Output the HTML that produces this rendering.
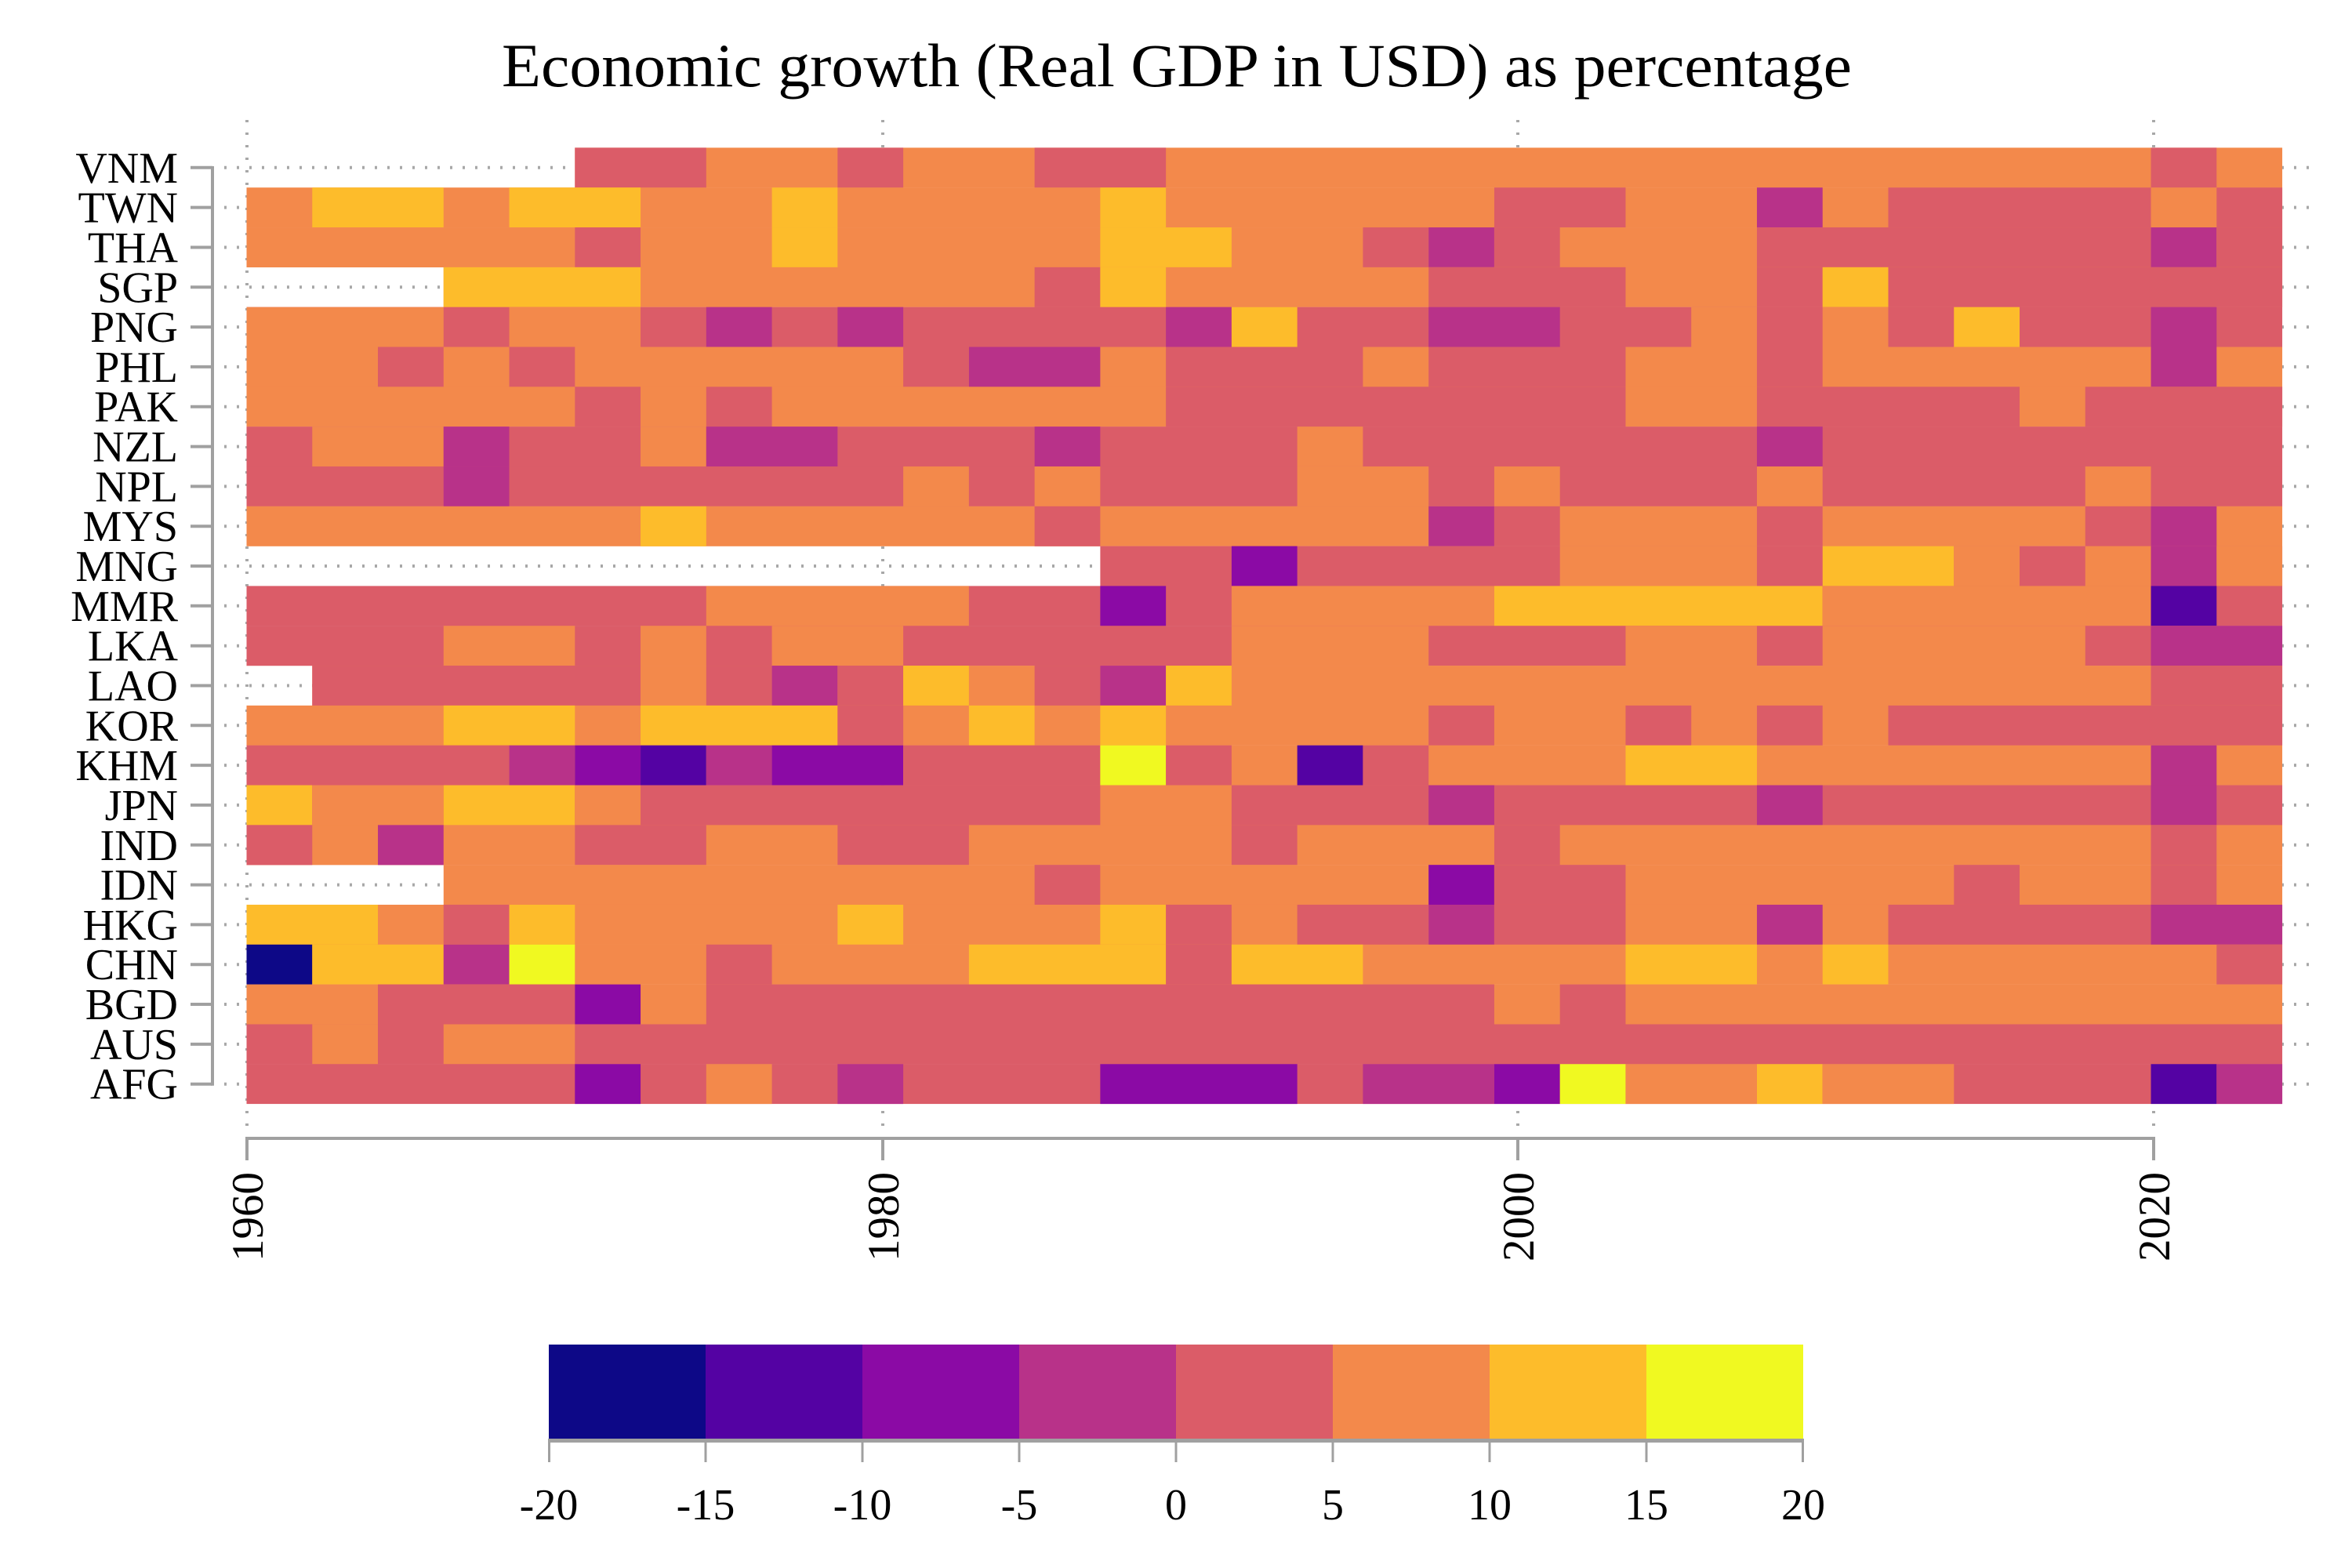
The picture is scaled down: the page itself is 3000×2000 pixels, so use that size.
<!DOCTYPE html>
<html>
<head>
<meta charset="utf-8">
<style>
html,body{margin:0;padding:0;background:#fff;}
svg{display:block;}
.R{fill:#db5c68}.O{fill:#f3894b}.Y{fill:#fdbc2b}.L{fill:#f0f921}
.M{fill:#b83289}.P{fill:#8b0aa5}.V{fill:#5402a3}.N{fill:#0d0887}
text{font-family:"Liberation Serif",serif;fill:#000;}
</style>
</head>
<body>
<svg width="3000" height="2000" viewBox="0 0 3000 2000" xmlns="http://www.w3.org/2000/svg">
<rect x="0" y="0" width="3000" height="2000" fill="#fff"/>

<!-- gridlines -->
<path d="M286 213.8H2950M286 264.6H2950M286 315.5H2950M286 366.3H2950M286 417.1H2950M286 467.9H2950M286 518.7H2950M286 569.6H2950M286 620.4H2950M286 671.2H2950M286 722H2950M286 772.8H2950M286 823.7H2950M286 874.5H2950M286 925.3H2950M286 976.1H2950M286 1026.9H2950M286 1077.8H2950M286 1128.6H2950M286 1179.4H2950M286 1230.2H2950M286 1281H2950M286 1331.9H2950M286 1382.7H2950" stroke="#a8a8a8" stroke-width="4" stroke-dasharray="3 13" fill="none"/>
<path d="M315 153V1440M1126 153V1440M1936 153V1440M2747 153V1440" stroke="#a8a8a8" stroke-width="4" stroke-dasharray="3 13" fill="none"/>

<!-- heatmap -->
<!-- r0 VNM -->
<g transform="translate(0,188.4)">
<rect class="O" x="733.3" y="0" width="2177.76" height="51"/>
<rect class="R" x="733.3" y="0" width="167.52" height="51"/>
<rect class="R" x="1068.34" y="0" width="83.76" height="51"/>
<rect class="R" x="1319.62" y="0" width="167.52" height="51"/>
<rect class="R" x="2743.54" y="0" width="83.76" height="51"/>
</g>
<!-- r1 TWN -->
<g transform="translate(0,239.22)">
<rect class="O" x="314.5" y="0" width="2596.56" height="51"/>
<rect class="Y" x="398.26" y="0" width="167.52" height="51"/>
<rect class="Y" x="649.54" y="0" width="167.52" height="51"/>
<rect class="Y" x="984.58" y="0" width="83.76" height="51"/>
<rect class="Y" x="1403.38" y="0" width="83.76" height="51"/>
<rect class="R" x="1905.94" y="0" width="167.52" height="51"/>
<rect class="M" x="2240.98" y="0" width="83.76" height="51"/>
<rect class="R" x="2408.5" y="0" width="335.04" height="51"/>
<rect class="R" x="2827.3" y="0" width="83.76" height="51"/>
</g>
<!-- r2 THA -->
<g transform="translate(0,290.04)">
<rect class="O" x="314.5" y="0" width="2596.56" height="51"/>
<rect class="R" x="733.3" y="0" width="83.76" height="51"/>
<rect class="Y" x="984.58" y="0" width="83.76" height="51"/>
<rect class="Y" x="1403.38" y="0" width="167.52" height="51"/>
<rect class="R" x="1738.42" y="0" width="83.76" height="51"/>
<rect class="M" x="1822.18" y="0" width="83.76" height="51"/>
<rect class="R" x="1905.94" y="0" width="83.76" height="51"/>
<rect class="R" x="2240.98" y="0" width="502.56" height="51"/>
<rect class="M" x="2743.54" y="0" width="83.76" height="51"/>
<rect class="R" x="2827.3" y="0" width="83.76" height="51"/>
</g>
<!-- r3 SGP -->
<g transform="translate(0,340.86)">
<rect class="O" x="565.78" y="0" width="2345.28" height="51"/>
<rect class="Y" x="565.78" y="0" width="251.28" height="51"/>
<rect class="R" x="1319.62" y="0" width="83.76" height="51"/>
<rect class="Y" x="1403.38" y="0" width="83.76" height="51"/>
<rect class="R" x="1822.18" y="0" width="251.28" height="51"/>
<rect class="R" x="2240.98" y="0" width="83.76" height="51"/>
<rect class="Y" x="2324.74" y="0" width="83.76" height="51"/>
<rect class="R" x="2408.5" y="0" width="502.56" height="51"/>
</g>
<!-- r4 PNG -->
<g transform="translate(0,391.68)">
<rect class="R" x="314.5" y="0" width="2596.56" height="51"/>
<rect class="O" x="314.5" y="0" width="251.28" height="51"/>
<rect class="O" x="649.54" y="0" width="167.52" height="51"/>
<rect class="M" x="900.82" y="0" width="83.76" height="51"/>
<rect class="M" x="1068.34" y="0" width="83.76" height="51"/>
<rect class="M" x="1487.14" y="0" width="83.76" height="51"/>
<rect class="Y" x="1570.9" y="0" width="83.76" height="51"/>
<rect class="M" x="1822.18" y="0" width="167.52" height="51"/>
<rect class="O" x="2157.22" y="0" width="83.76" height="51"/>
<rect class="O" x="2324.74" y="0" width="83.76" height="51"/>
<rect class="Y" x="2492.26" y="0" width="83.76" height="51"/>
<rect class="M" x="2743.54" y="0" width="83.76" height="51"/>
</g>
<!-- r5 PHL -->
<g transform="translate(0,442.5)">
<rect class="O" x="314.5" y="0" width="2596.56" height="51"/>
<rect class="R" x="482.02" y="0" width="83.76" height="51"/>
<rect class="R" x="649.54" y="0" width="83.76" height="51"/>
<rect class="R" x="1152.1" y="0" width="83.76" height="51"/>
<rect class="M" x="1235.86" y="0" width="167.52" height="51"/>
<rect class="R" x="1487.14" y="0" width="251.28" height="51"/>
<rect class="R" x="1822.18" y="0" width="251.28" height="51"/>
<rect class="R" x="2240.98" y="0" width="83.76" height="51"/>
<rect class="M" x="2743.54" y="0" width="83.76" height="51"/>
</g>
<!-- r6 PAK -->
<g transform="translate(0,493.32)">
<rect class="O" x="314.5" y="0" width="2596.56" height="51"/>
<rect class="R" x="733.3" y="0" width="83.76" height="51"/>
<rect class="R" x="900.82" y="0" width="83.76" height="51"/>
<rect class="R" x="1487.14" y="0" width="586.32" height="51"/>
<rect class="R" x="2240.98" y="0" width="335.04" height="51"/>
<rect class="R" x="2659.78" y="0" width="251.28" height="51"/>
</g>
<!-- r7 NZL -->
<g transform="translate(0,544.14)">
<rect class="R" x="314.5" y="0" width="2596.56" height="51"/>
<rect class="O" x="398.26" y="0" width="167.52" height="51"/>
<rect class="M" x="565.78" y="0" width="83.76" height="51"/>
<rect class="O" x="817.06" y="0" width="83.76" height="51"/>
<rect class="M" x="900.82" y="0" width="167.52" height="51"/>
<rect class="M" x="1319.62" y="0" width="83.76" height="51"/>
<rect class="O" x="1654.66" y="0" width="83.76" height="51"/>
<rect class="M" x="2240.98" y="0" width="83.76" height="51"/>
</g>
<!-- r8 NPL -->
<g transform="translate(0,594.96)">
<rect class="R" x="314.5" y="0" width="2596.56" height="51"/>
<rect class="M" x="565.78" y="0" width="83.76" height="51"/>
<rect class="O" x="1152.1" y="0" width="83.76" height="51"/>
<rect class="O" x="1319.62" y="0" width="83.76" height="51"/>
<rect class="O" x="1654.66" y="0" width="167.52" height="51"/>
<rect class="O" x="1905.94" y="0" width="83.76" height="51"/>
<rect class="O" x="2240.98" y="0" width="83.76" height="51"/>
<rect class="O" x="2659.78" y="0" width="83.76" height="51"/>
</g>
<!-- r9 MYS -->
<g transform="translate(0,645.78)">
<rect class="O" x="314.5" y="0" width="2596.56" height="51"/>
<rect class="Y" x="817.06" y="0" width="83.76" height="51"/>
<rect class="R" x="1319.62" y="0" width="83.76" height="51"/>
<rect class="M" x="1822.18" y="0" width="83.76" height="51"/>
<rect class="R" x="1905.94" y="0" width="83.76" height="51"/>
<rect class="R" x="2240.98" y="0" width="83.76" height="51"/>
<rect class="R" x="2659.78" y="0" width="83.76" height="51"/>
<rect class="M" x="2743.54" y="0" width="83.76" height="51"/>
</g>
<!-- r10 MNG -->
<g transform="translate(0,696.6)">
<rect class="R" x="1403.38" y="0" width="1507.68" height="51"/>
<rect class="P" x="1570.9" y="0" width="83.76" height="51"/>
<rect class="O" x="1989.7" y="0" width="251.28" height="51"/>
<rect class="Y" x="2324.74" y="0" width="167.52" height="51"/>
<rect class="O" x="2492.26" y="0" width="83.76" height="51"/>
<rect class="O" x="2659.78" y="0" width="83.76" height="51"/>
<rect class="M" x="2743.54" y="0" width="83.76" height="51"/>
<rect class="O" x="2827.3" y="0" width="83.76" height="51"/>
</g>
<!-- r11 MMR -->
<g transform="translate(0,747.42)">
<rect class="R" x="314.5" y="0" width="2596.56" height="51"/>
<rect class="O" x="900.82" y="0" width="335.04" height="51"/>
<rect class="P" x="1403.38" y="0" width="83.76" height="51"/>
<rect class="O" x="1570.9" y="0" width="335.04" height="51"/>
<rect class="Y" x="1905.94" y="0" width="418.8" height="51"/>
<rect class="O" x="2324.74" y="0" width="418.8" height="51"/>
<rect class="V" x="2743.54" y="0" width="83.76" height="51"/>
</g>
<!-- r12 LKA -->
<g transform="translate(0,798.24)">
<rect class="R" x="314.5" y="0" width="2596.56" height="51"/>
<rect class="O" x="565.78" y="0" width="167.52" height="51"/>
<rect class="O" x="817.06" y="0" width="83.76" height="51"/>
<rect class="O" x="984.58" y="0" width="167.52" height="51"/>
<rect class="O" x="1570.9" y="0" width="251.28" height="51"/>
<rect class="O" x="2073.46" y="0" width="167.52" height="51"/>
<rect class="O" x="2324.74" y="0" width="335.04" height="51"/>
<rect class="M" x="2743.54" y="0" width="167.52" height="51"/>
</g>
<!-- r13 LAO -->
<g transform="translate(0,849.06)">
<rect class="O" x="398.26" y="0" width="2512.8" height="51"/>
<rect class="R" x="398.26" y="0" width="418.8" height="51"/>
<rect class="R" x="900.82" y="0" width="83.76" height="51"/>
<rect class="M" x="984.58" y="0" width="83.76" height="51"/>
<rect class="R" x="1068.34" y="0" width="83.76" height="51"/>
<rect class="Y" x="1152.1" y="0" width="83.76" height="51"/>
<rect class="R" x="1319.62" y="0" width="83.76" height="51"/>
<rect class="M" x="1403.38" y="0" width="83.76" height="51"/>
<rect class="Y" x="1487.14" y="0" width="83.76" height="51"/>
<rect class="R" x="2743.54" y="0" width="167.52" height="51"/>
</g>
<!-- r14 KOR -->
<g transform="translate(0,899.88)">
<rect class="O" x="314.5" y="0" width="2596.56" height="51"/>
<rect class="Y" x="565.78" y="0" width="167.52" height="51"/>
<rect class="Y" x="817.06" y="0" width="251.28" height="51"/>
<rect class="R" x="1068.34" y="0" width="83.76" height="51"/>
<rect class="Y" x="1235.86" y="0" width="83.76" height="51"/>
<rect class="Y" x="1403.38" y="0" width="83.76" height="51"/>
<rect class="R" x="1822.18" y="0" width="83.76" height="51"/>
<rect class="R" x="2073.46" y="0" width="83.76" height="51"/>
<rect class="R" x="2240.98" y="0" width="83.76" height="51"/>
<rect class="R" x="2408.5" y="0" width="502.56" height="51"/>
</g>
<!-- r15 KHM -->
<g transform="translate(0,950.7)">
<rect class="O" x="314.5" y="0" width="2596.56" height="51"/>
<rect class="R" x="314.5" y="0" width="335.04" height="51"/>
<rect class="M" x="649.54" y="0" width="83.76" height="51"/>
<rect class="P" x="733.3" y="0" width="83.76" height="51"/>
<rect class="V" x="817.06" y="0" width="83.76" height="51"/>
<rect class="M" x="900.82" y="0" width="83.76" height="51"/>
<rect class="P" x="984.58" y="0" width="167.52" height="51"/>
<rect class="R" x="1152.1" y="0" width="251.28" height="51"/>
<rect class="L" x="1403.38" y="0" width="83.76" height="51"/>
<rect class="R" x="1487.14" y="0" width="83.76" height="51"/>
<rect class="V" x="1654.66" y="0" width="83.76" height="51"/>
<rect class="R" x="1738.42" y="0" width="83.76" height="51"/>
<rect class="Y" x="2073.46" y="0" width="167.52" height="51"/>
<rect class="M" x="2743.54" y="0" width="83.76" height="51"/>
</g>
<!-- r16 JPN -->
<g transform="translate(0,1001.52)">
<rect class="R" x="314.5" y="0" width="2596.56" height="51"/>
<rect class="Y" x="314.5" y="0" width="83.76" height="51"/>
<rect class="O" x="398.26" y="0" width="167.52" height="51"/>
<rect class="Y" x="565.78" y="0" width="167.52" height="51"/>
<rect class="O" x="733.3" y="0" width="83.76" height="51"/>
<rect class="O" x="1403.38" y="0" width="167.52" height="51"/>
<rect class="M" x="1822.18" y="0" width="83.76" height="51"/>
<rect class="M" x="2240.98" y="0" width="83.76" height="51"/>
<rect class="M" x="2743.54" y="0" width="83.76" height="51"/>
</g>
<!-- r17 IND -->
<g transform="translate(0,1052.34)">
<rect class="O" x="314.5" y="0" width="2596.56" height="51"/>
<rect class="R" x="314.5" y="0" width="83.76" height="51"/>
<rect class="M" x="482.02" y="0" width="83.76" height="51"/>
<rect class="R" x="733.3" y="0" width="167.52" height="51"/>
<rect class="R" x="1068.34" y="0" width="167.52" height="51"/>
<rect class="R" x="1570.9" y="0" width="83.76" height="51"/>
<rect class="R" x="1905.94" y="0" width="83.76" height="51"/>
<rect class="R" x="2743.54" y="0" width="83.76" height="51"/>
</g>
<!-- r18 IDN -->
<g transform="translate(0,1103.16)">
<rect class="O" x="565.78" y="0" width="2345.28" height="51"/>
<rect class="R" x="1319.62" y="0" width="83.76" height="51"/>
<rect class="P" x="1822.18" y="0" width="83.76" height="51"/>
<rect class="R" x="1905.94" y="0" width="167.52" height="51"/>
<rect class="R" x="2492.26" y="0" width="83.76" height="51"/>
<rect class="R" x="2743.54" y="0" width="83.76" height="51"/>
</g>
<!-- r19 HKG -->
<g transform="translate(0,1153.98)">
<rect class="O" x="314.5" y="0" width="2596.56" height="51"/>
<rect class="Y" x="314.5" y="0" width="167.52" height="51"/>
<rect class="R" x="565.78" y="0" width="83.76" height="51"/>
<rect class="Y" x="649.54" y="0" width="83.76" height="51"/>
<rect class="Y" x="1068.34" y="0" width="83.76" height="51"/>
<rect class="Y" x="1403.38" y="0" width="83.76" height="51"/>
<rect class="R" x="1487.14" y="0" width="83.76" height="51"/>
<rect class="R" x="1654.66" y="0" width="167.52" height="51"/>
<rect class="M" x="1822.18" y="0" width="83.76" height="51"/>
<rect class="R" x="1905.94" y="0" width="167.52" height="51"/>
<rect class="M" x="2240.98" y="0" width="83.76" height="51"/>
<rect class="R" x="2408.5" y="0" width="335.04" height="51"/>
<rect class="M" x="2743.54" y="0" width="167.52" height="51"/>
</g>
<!-- r20 CHN -->
<g transform="translate(0,1204.8)">
<rect class="O" x="314.5" y="0" width="2596.56" height="51"/>
<rect class="N" x="314.5" y="0" width="83.76" height="51"/>
<rect class="Y" x="398.26" y="0" width="167.52" height="51"/>
<rect class="M" x="565.78" y="0" width="83.76" height="51"/>
<rect class="L" x="649.54" y="0" width="83.76" height="51"/>
<rect class="R" x="900.82" y="0" width="83.76" height="51"/>
<rect class="Y" x="1235.86" y="0" width="251.28" height="51"/>
<rect class="R" x="1487.14" y="0" width="83.76" height="51"/>
<rect class="Y" x="1570.9" y="0" width="167.52" height="51"/>
<rect class="Y" x="2073.46" y="0" width="167.52" height="51"/>
<rect class="Y" x="2324.74" y="0" width="83.76" height="51"/>
<rect class="R" x="2827.3" y="0" width="83.76" height="51"/>
</g>
<!-- r21 BGD -->
<g transform="translate(0,1255.62)">
<rect class="O" x="314.5" y="0" width="2596.56" height="51"/>
<rect class="R" x="482.02" y="0" width="251.28" height="51"/>
<rect class="P" x="733.3" y="0" width="83.76" height="51"/>
<rect class="R" x="900.82" y="0" width="1005.12" height="51"/>
<rect class="R" x="1989.7" y="0" width="83.76" height="51"/>
</g>
<!-- r22 AUS -->
<g transform="translate(0,1306.44)">
<rect class="R" x="314.5" y="0" width="2596.56" height="51"/>
<rect class="O" x="398.26" y="0" width="83.76" height="51"/>
<rect class="O" x="565.78" y="0" width="167.52" height="51"/>
</g>
<!-- r23 AFG -->
<g transform="translate(0,1357.26)">
<rect class="R" x="314.5" y="0" width="2596.56" height="50.82"/>
<rect class="P" x="733.3" y="0" width="83.76" height="50.82"/>
<rect class="O" x="900.82" y="0" width="83.76" height="50.82"/>
<rect class="M" x="1068.34" y="0" width="83.76" height="50.82"/>
<rect class="P" x="1403.38" y="0" width="251.28" height="50.82"/>
<rect class="M" x="1738.42" y="0" width="167.52" height="50.82"/>
<rect class="P" x="1905.94" y="0" width="83.76" height="50.82"/>
<rect class="L" x="1989.7" y="0" width="83.76" height="50.82"/>
<rect class="O" x="2073.46" y="0" width="167.52" height="50.82"/>
<rect class="Y" x="2240.98" y="0" width="83.76" height="50.82"/>
<rect class="O" x="2324.74" y="0" width="167.52" height="50.82"/>
<rect class="V" x="2743.54" y="0" width="83.76" height="50.82"/>
<rect class="M" x="2827.3" y="0" width="83.76" height="50.82"/>
</g>

<!-- Y axis -->
<path d="M271 212V1384.7" stroke="#a0a0a0" stroke-width="4" fill="none"/>
<path d="M243 213.8H271M243 264.6H271M243 315.5H271M243 366.3H271M243 417.1H271M243 467.9H271M243 518.7H271M243 569.6H271M243 620.4H271M243 671.2H271M243 722H271M243 772.8H271M243 823.7H271M243 874.5H271M243 925.3H271M243 976.1H271M243 1026.9H271M243 1077.8H271M243 1128.6H271M243 1179.4H271M243 1230.2H271M243 1281H271M243 1331.9H271M243 1382.7H271" stroke="#a0a0a0" stroke-width="4" fill="none"/>
<g font-size="56" text-anchor="end">
<text x="227" y="232.8">VNM</text>
<text x="227" y="283.6">TWN</text>
<text x="227" y="334.5">THA</text>
<text x="227" y="385.3">SGP</text>
<text x="227" y="436.1">PNG</text>
<text x="227" y="486.9">PHL</text>
<text x="227" y="537.7">PAK</text>
<text x="227" y="588.6">NZL</text>
<text x="227" y="639.4">NPL</text>
<text x="227" y="690.2">MYS</text>
<text x="227" y="741">MNG</text>
<text x="227" y="791.8">MMR</text>
<text x="227" y="842.7">LKA</text>
<text x="227" y="893.5">LAO</text>
<text x="227" y="944.3">KOR</text>
<text x="227" y="995.1">KHM</text>
<text x="227" y="1045.9">JPN</text>
<text x="227" y="1096.8">IND</text>
<text x="227" y="1147.6">IDN</text>
<text x="227" y="1198.4">HKG</text>
<text x="227" y="1249.2">CHN</text>
<text x="227" y="1300">BGD</text>
<text x="227" y="1350.9">AUS</text>
<text x="227" y="1401.7">AFG</text>
</g>

<!-- X axis -->
<path d="M313 1452H2749" stroke="#a0a0a0" stroke-width="4" fill="none"/>
<path d="M315 1450V1480M1126 1450V1480M1936 1450V1480M2747 1450V1480" stroke="#a0a0a0" stroke-width="4" fill="none"/>
<g font-size="57" text-anchor="end">
<text transform="translate(335,1495) rotate(-90)">1960</text>
<text transform="translate(1146,1495) rotate(-90)">1980</text>
<text transform="translate(1956,1495) rotate(-90)">2000</text>
<text transform="translate(2767,1495) rotate(-90)">2020</text>
</g>

<!-- Colorbar -->
<rect x="700" y="1715" width="200" height="121" fill="#0d0887"/>
<rect x="900" y="1715" width="200" height="121" fill="#5402a3"/>
<rect x="1100" y="1715" width="200" height="121" fill="#8b0aa5"/>
<rect x="1300" y="1715" width="200" height="121" fill="#b83289"/>
<rect x="1500" y="1715" width="200" height="121" fill="#db5c68"/>
<rect x="1700" y="1715" width="200" height="121" fill="#f3894b"/>
<rect x="1900" y="1715" width="200" height="121" fill="#fdbc2b"/>
<rect x="2100" y="1715" width="200" height="121" fill="#f0f921"/>
<path d="M699 1837.5H2301" stroke="#a0a0a0" stroke-width="5" fill="none"/>
<path d="M700.5 1837V1865M900 1837V1865M1100 1837V1865M1300 1837V1865M1500 1837V1865M1700 1837V1865M1900 1837V1865M2100 1837V1865M2299.5 1837V1865" stroke="#a0a0a0" stroke-width="3" fill="none"/>
<g font-size="56" text-anchor="middle">
<text x="700" y="1938">-20</text>
<text x="900" y="1938">-15</text>
<text x="1100" y="1938">-10</text>
<text x="1300" y="1938">-5</text>
<text x="1500" y="1938">0</text>
<text x="1700" y="1938">5</text>
<text x="1900" y="1938">10</text>
<text x="2100" y="1938">15</text>
<text x="2300" y="1938">20</text>
</g>

<!-- Title -->
<text x="640" y="110" font-size="78" textLength="1722" lengthAdjust="spacingAndGlyphs">Economic growth (Real GDP in USD) as percentage</text>
</svg>
</body>
</html>
